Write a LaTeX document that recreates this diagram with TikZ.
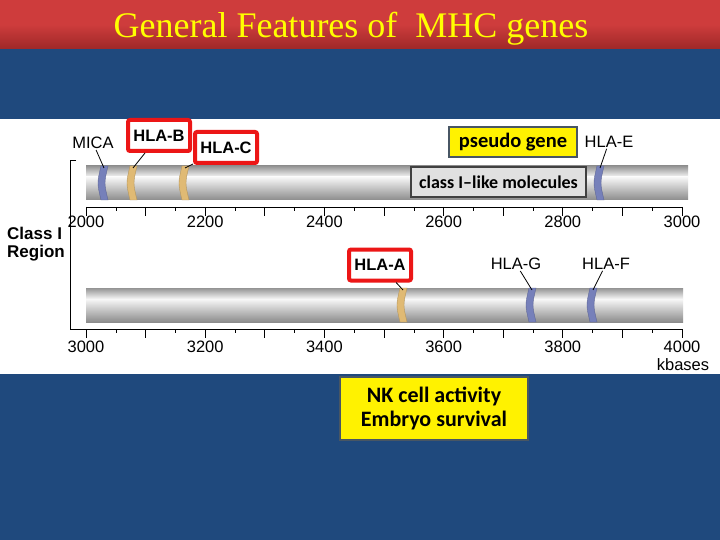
\documentclass[tikz,border=0pt]{standalone}
\usepackage{fontspec}
\setmainfont{Liberation Serif}
\newfontfamily\figfont{Liberation Sans}
\newfontfamily\calfont{Carlito}
\usepackage{tikz}
\usetikzlibrary{graphs}

\definecolor{slideblue}{RGB}{31,73,125}
\definecolor{bannerred}{RGB}{206,60,60}
\definecolor{bannerdark}{RGB}{158,40,40}
\definecolor{titleyellow}{RGB}{255,255,0}
\definecolor{markred}{RGB}{236,22,22}
\definecolor{notegray}{RGB}{72,86,100}
\definecolor{bandblue}{RGB}{118,128,186}
\definecolor{bandtan}{RGB}{224,186,116}

\begin{document}
\begin{tikzpicture}[x=1pt,y=-1pt,
	gene/.style={font=\figfont\fontsize{16.5}{16.5}\selectfont, inner sep=1pt},
	markbox/.style={font=\figfont\bfseries\fontsize{16.5}{16.5}\selectfont, draw=markred, line width=4pt, rounded corners=2pt, fill=white, minimum width=62pt, minimum height=31pt},
	note/.style={draw=notegray, line width=1.2pt, align=center, inner sep=0pt},
	tick/.style={font=\figfont\fontsize{16.5}{16.5}\selectfont, inner sep=0pt},
	leader/.style={draw=black, line width=0.8pt}]
		\useasboundingbox (0,0) rectangle (720,540);
		\fill[slideblue] (0,0) rectangle (720,540);
		\shade[top color=bannerred, bottom color=bannerdark, middle color=bannerred] (0,0) rectangle (720,49);
		\fill[white] (0,119) rectangle (720,374);
		\node (title) at (351,29) [text=titleyellow, font=\fontsize{36}{36}\selectfont] {General Features of~ MHC genes};
		
		% chromosome bars
		\foreach \y/\r in {166/688, 288/683} {
			\shade[top color=black!42, bottom color=black!3] (86,\y) rectangle (\r,\y+11);
			\shade[top color=black!3, bottom color=black!45] (86,\y+11) rectangle (\r,\y+34);
		}
		
		% scales
		\draw[line width=0.8pt] (76,160) -- (70,160) -- (70,329) -- (683,329);
		\draw[line width=0.8pt] (86,207) -- (682,207);
		\foreach \k in {0,...,10} {
			\draw[line width=0.8pt] (86+\k*59.6,207) -- ++(0,9);
			\draw[line width=0.8pt] (86+\k*59.6,329) -- ++(0,9);
		}
		\foreach \k in {0,...,9} {
			\draw[line width=0.6pt] (115.8+\k*59.6,207) -- ++(0,4);
			\draw[line width=0.6pt] (115.8+\k*59.6,329) -- ++(0,4);
		}
		\foreach \k/\v in {0/2000,1/2200,2/2400,3/2600,4/2800,5/3000}
			\node (t\v) at (86+\k*119.2,222) [tick] {\v};
		\foreach \k/\v in {0/3000,1/3200,2/3400,3/3600,4/3800,5/4000}
			\node (u\v) at (86+\k*119.2,347) [tick] {\v};
		\node (kb) at (683,365) [tick] {kbases};
		\node (region) at (7,244) [anchor=west, align=left, font=\figfont\bfseries\fontsize{17}{18}\selectfont, inner sep=0pt] {Class I\\Region};
		
		% genes on the bars
		\foreach \n/\x/\y/\c in {mica/104/166/bandblue, hlab/133/166/bandtan, hlac/185/166/bandtan, hlae/600/166/bandblue,
			hlaa/403/288/bandtan, hlag/532/288/bandblue, hlaf/593/288/bandblue} {
			\fill[\c, draw=\c!80!black, line width=0.4pt] (\x-3,\y) .. controls (\x-7,\y+17) .. (\x-3,\y+34) -- (\x+4,\y+34) .. controls (\x,\y+17) .. (\x+4,\y) -- cycle;
			\coordinate (\n_b) at (\x,\y+2);
		}
		
		\node (mica) at (93,143) [gene] {MICA};
		\node (hla_b) at (159,135.5) [markbox] {HLA-B};
		\node (hla_c) at (226,147.5) [markbox] {HLA-C};
		\node (hla_e) at (609,142) [gene] {HLA-E};
		\node (hla_a) at (380,265) [markbox] {HLA-A};
		\node (hla_g) at (516,264) [gene] {HLA-G};
		\node (hla_f) at (606,264) [gene] {HLA-F};
		
		\node (pseudo) at (513,142) [note, fill=yellow, minimum width=128pt, minimum height=30pt, font=\calfont\bfseries\fontsize{20.5}{20.5}\selectfont] {pseudo gene};
		\node (likemol) at (498.5,182) [note, draw=black!75, fill=black!12, minimum width=175pt, minimum height=30pt, font=\calfont\bfseries\fontsize{18}{18}\selectfont] {class I–like molecules};
		\node (nk) at (434,408.5) [note, fill=yellow, minimum width=188pt, minimum height=63pt, font=\calfont\bfseries\fontsize{22}{24}\selectfont] {NK cell activity\\Embryo survival};
		
		\graph[edges={leader}] {
			(mica) -- (mica_b);
			(hla_b) -- (hlab_b);
			(hla_c) -- (hlac_b);
			(hla_e) -- (hlae_b);
			(hla_a) -- (hlaa_b);
			(hla_g) -- (hlag_b);
			(hla_f) -- (hlaf_b);
		};
\end{tikzpicture}
\end{document}
